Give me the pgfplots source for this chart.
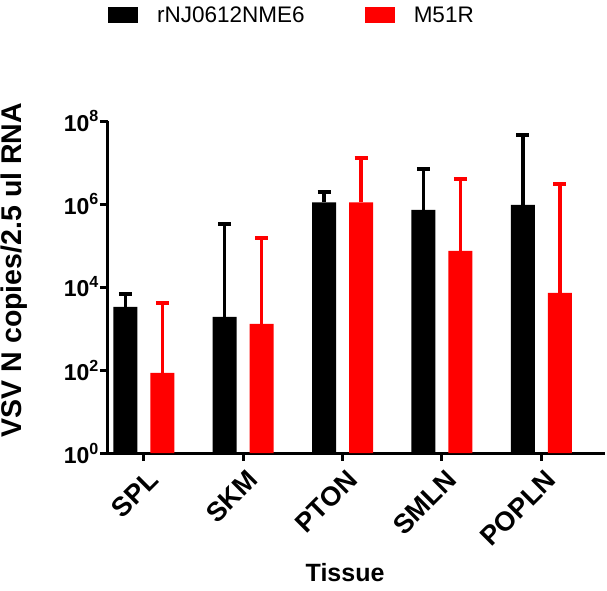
\documentclass[border=0pt]{standalone}
\usepackage{fontspec}
\setmainfont{Liberation Sans}
\usepackage{pgfplots}
\pgfplotsset{compat=1.18}
\definecolor{bred}{RGB}{255,0,0}
\newcommand{\xtl}[1]{{\fontsize{27}{29}\selectfont\bfseries #1}}
\begin{document}
\begin{tikzpicture}[x=1pt,y=1pt]
\path[use as bounding box] (-108,-137) rectangle (499,453);
\begin{axis}[
  at={(0,0)}, anchor=south west, scale only axis,
  width=497pt, height=332pt,
  ymode=log, ymin=1, ymax=1e8,
  xmin=-0.36, xmax=4.64,
  axis lines=left, axis line style={line width=3pt,-},
  every tick/.style={line width=3pt,black},
  major tick length=8pt, tick align=outside,
  xtick={0,1,2,3,4},
  xticklabels={\xtl{SPL},\xtl{SKM},\xtl{PTON},\xtl{SMLN},\xtl{POPLN}},
  ytick={1,1e2,1e4,1e6,1e8},
  yticklabels={10\textsuperscript{0},10\textsuperscript{2},10\textsuperscript{4},10\textsuperscript{6},10\textsuperscript{8}},
  yminorticks=false,
  yticklabel style={font=\fontsize{23}{25}\selectfont\bfseries, inner sep=1pt},
  xticklabel style={xshift=3pt, yshift=-6pt, rotate=45, anchor=north east, inner sep=1pt},
  xlabel={Tissue},
  xlabel style={font=\fontsize{25}{28}\selectfont\bfseries, at={(rel axis cs:0.477,-0.361)}, anchor=center},
  ylabel={VSV N copies/2.5 ul RNA},
  ylabel style={font=\fontsize{28.5}{32}\selectfont\bfseries, at={(rel axis cs:-0.188,0.551)}, anchor=center, rotate=0},
  ybar, bar width=24pt,
  legend style={at={(rel axis cs:0,1.319)}, anchor=west, draw=none, fill=none,
    font=\fontsize{22.5}{26}\selectfont, inner sep=0pt,
    /tikz/every odd column/.append style={column sep=17pt},
    /tikz/every even column/.append style={column sep=58pt}},
  legend columns=2,
  legend image code/.code={\fill[#1] (0pt,-8pt) rectangle (30pt,8pt);},
  error bars/y dir=plus, error bars/y explicit,
]
\addplot[fill=black, draw=none, bar shift=-18.5pt,
  error bars/error bar style={line width=3.5pt, black},
  error bars/error mark options={rotate=90, line width=3.5pt, mark size=6.5pt, black}]
  coordinates {
  (0,3300) +- (0,3500)
  (1,1900) +- (0,328100)
  (2,1100000) +- (0,850000)
  (3,720000) +- (0,6280000)
  (4,950000) +- (0,45050000)
};
\addlegendentry{rNJ0612NME6}
\addplot[fill=bred, draw=none, bar shift=18.5pt,
  error bars/error bar style={line width=3.5pt, bred},
  error bars/error mark options={rotate=90, line width=3.5pt, mark size=6.5pt, bred}]
  coordinates {
  (0,85) +- (0,4015)
  (1,1300) +- (0,148700)
  (2,1100000) +- (0,11600000)
  (3,74000) +- (0,3926000)
  (4,7200) +- (0,2992800)
};
\addlegendentry{M51R}
\end{axis}
\end{tikzpicture}
\end{document}
